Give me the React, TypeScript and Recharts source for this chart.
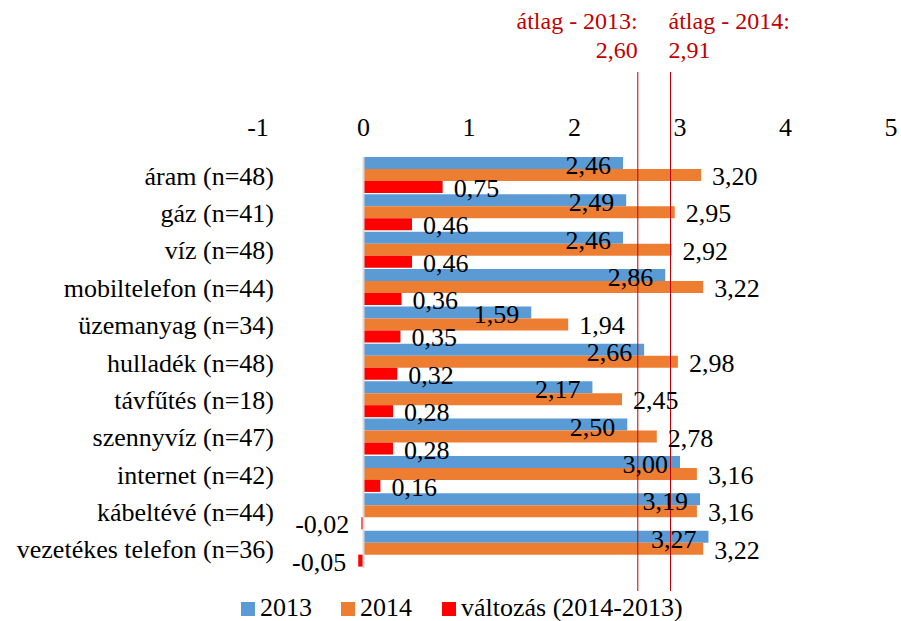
import { Bar, BarChart, LabelList, Legend, ReferenceLine, XAxis, YAxis } from 'recharts';

const categories = [
  'áram (n=48)',
  'gáz (n=41)',
  'víz (n=48)',
  'mobiltelefon (n=44)',
  'üzemanyag (n=34)',
  'hulladék (n=48)',
  'távfűtés (n=18)',
  'szennyvíz (n=47)',
  'internet (n=42)',
  'kábeltévé (n=44)',
  'vezetékes telefon (n=36)',
];
const values2013 = [2.46, 2.49, 2.46, 2.86, 1.59, 2.66, 2.17, 2.5, 3.0, 3.19, 3.27];
const values2014 = [3.2, 2.95, 2.92, 3.22, 1.94, 2.98, 2.45, 2.78, 3.16, 3.16, 3.22];
const changes = [0.75, 0.46, 0.46, 0.36, 0.35, 0.32, 0.28, 0.28, 0.16, -0.02, -0.05];
const xTicks = [-1, 0, 1, 2, 3, 4, 5];
const avg2013 = 2.6;
const avg2014 = 2.91;

const FONT = 'Liberation Serif, DejaVu Serif, Times New Roman, serif';
const BLUE = '#5B9BD5';
const ORANGE = '#ED7D31';
const RED = '#FF0000';
const DARKRED = '#C00000';

const fmt = (v: number) => v.toFixed(2).replace('.', ',');

const data = categories.map((name, i) => ({
  name,
  y2013: values2013[i],
  y2014: values2014[i],
  diff: changes[i],
}));

function CatTick(props: any) {
  const { x, y, payload } = props;
  return (
    <text x={x + 16} y={y + 9} textAnchor="end" style={{ fontFamily: FONT }} fontSize={26} fill="#000">
      {payload.value}
    </text>
  );
}

function blueLabel(props: any) {
  const { x, y, width, height, value } = props;
  return (
    <text x={x + width - 12} y={y + height / 2 + 11} textAnchor="end" style={{ fontFamily: FONT }} fontSize={26} fill="#000">
      {fmt(value)}
    </text>
  );
}

function outsideLabel(props: any) {
  const { x, y, width, height, value } = props;
  const left = Math.min(x, x + width);
  const right = Math.max(x, x + width);
  const neg = value < 0;
  return (
    <text
      x={neg ? left - 12 : right + 11}
      y={y + height / 2 + 10}
      textAnchor={neg ? 'end' : 'start'}
      style={{ fontFamily: FONT }}
      fontSize={26}
      fill="#000"
    >
      {fmt(value)}
    </text>
  );
}

function avgLine(title: string, value: number, side: 'left' | 'right') {
  return (p: any) => {
    const tx = side === 'left' ? p.x1 : p.x1 - 2;
    const anchor = side === 'left' ? 'end' : 'start';
    return (
      <g>
        <line x1={p.x1} y1={p.y1 - 85} x2={p.x2} y2={p.y2 + 23} stroke={DARKRED} strokeWidth={1} />
        <text x={tx} y={p.y1 - 128} textAnchor={anchor} style={{ fontFamily: FONT }} fontSize={24} fill={DARKRED}>
          {title}
        </text>
        <text x={tx} y={p.y1 - 99} textAnchor={anchor} style={{ fontFamily: FONT }} fontSize={24} fill={DARKRED}>
          {fmt(value)}
        </text>
      </g>
    );
  };
}

const legendItems = [
  { label: '2013', color: BLUE },
  { label: '2014', color: ORANGE },
  { label: 'változás (2014-2013)', color: RED },
];

function renderLegend() {
  return (
    <div style={{ display: 'flex', alignItems: 'center', fontFamily: FONT, fontSize: 26, color: '#000', lineHeight: '24px' }}>
      {legendItems.map((it, i) => (
        <div key={it.label} style={{ display: 'flex', alignItems: 'center', marginRight: i === 1 ? 30 : 29 }}>
          <span style={{ display: 'inline-block', width: 14, height: 14, background: it.color, marginRight: 5, marginTop: 2 }} />
          <span>{it.label}</span>
        </div>
      ))}
    </div>
  );
}

export default function App() {
  return (
    <div style={{ position: 'absolute', left: 0, top: 0, width: 901, height: 621, background: '#fff', fontFamily: FONT }}>
      <BarChart
        width={901}
        height={621}
        data={data}
        layout="vertical"
        barCategoryGap={0}
        barGap={0}
        margin={{ top: 127, right: 10, bottom: 53, left: 0 }}
        style={{ fontFamily: FONT }}
      >
        <XAxis
          type="number"
          orientation="top"
          domain={[-1, 5]}
          ticks={xTicks}
          height={30}
          axisLine={false}
          tickLine={false}
          tickSize={0}
          tickMargin={21}
          tick={{ fontFamily: FONT, fontSize: 26, fill: '#000' }}
        />
        <YAxis
          type="category"
          dataKey="name"
          width={258}
          axisLine={false}
          tickLine={false}
          tickSize={0}
          tickMargin={0}
          interval={0}
          tick={CatTick}
        />
        <ReferenceLine x={0} stroke="#D9D9D9" strokeWidth={2} />
        <Bar dataKey="y2013" name="2013" fill={BLUE} isAnimationActive={false}>
          <LabelList dataKey="y2013" content={blueLabel} />
        </Bar>
        <Bar dataKey="y2014" name="2014" fill={ORANGE} isAnimationActive={false}>
          <LabelList dataKey="y2014" content={outsideLabel} />
        </Bar>
        <Bar dataKey="diff" name="változás (2014-2013)" fill={RED} isAnimationActive={false}>
          <LabelList dataKey="diff" content={outsideLabel} />
        </Bar>
        <ReferenceLine x={avg2013} stroke={DARKRED} shape={avgLine('átlag - 2013:', avg2013, 'left')} />
        <ReferenceLine x={avg2014} stroke={DARKRED} shape={avgLine('átlag - 2014:', avg2014, 'right')} />
        <Legend
          layout="horizontal"
          verticalAlign="middle"
          align="center"
          content={renderLegend}
          wrapperStyle={{ left: 241, top: 596, width: 'auto', height: 'auto' }}
        />
      </BarChart>
    </div>
  );
}
